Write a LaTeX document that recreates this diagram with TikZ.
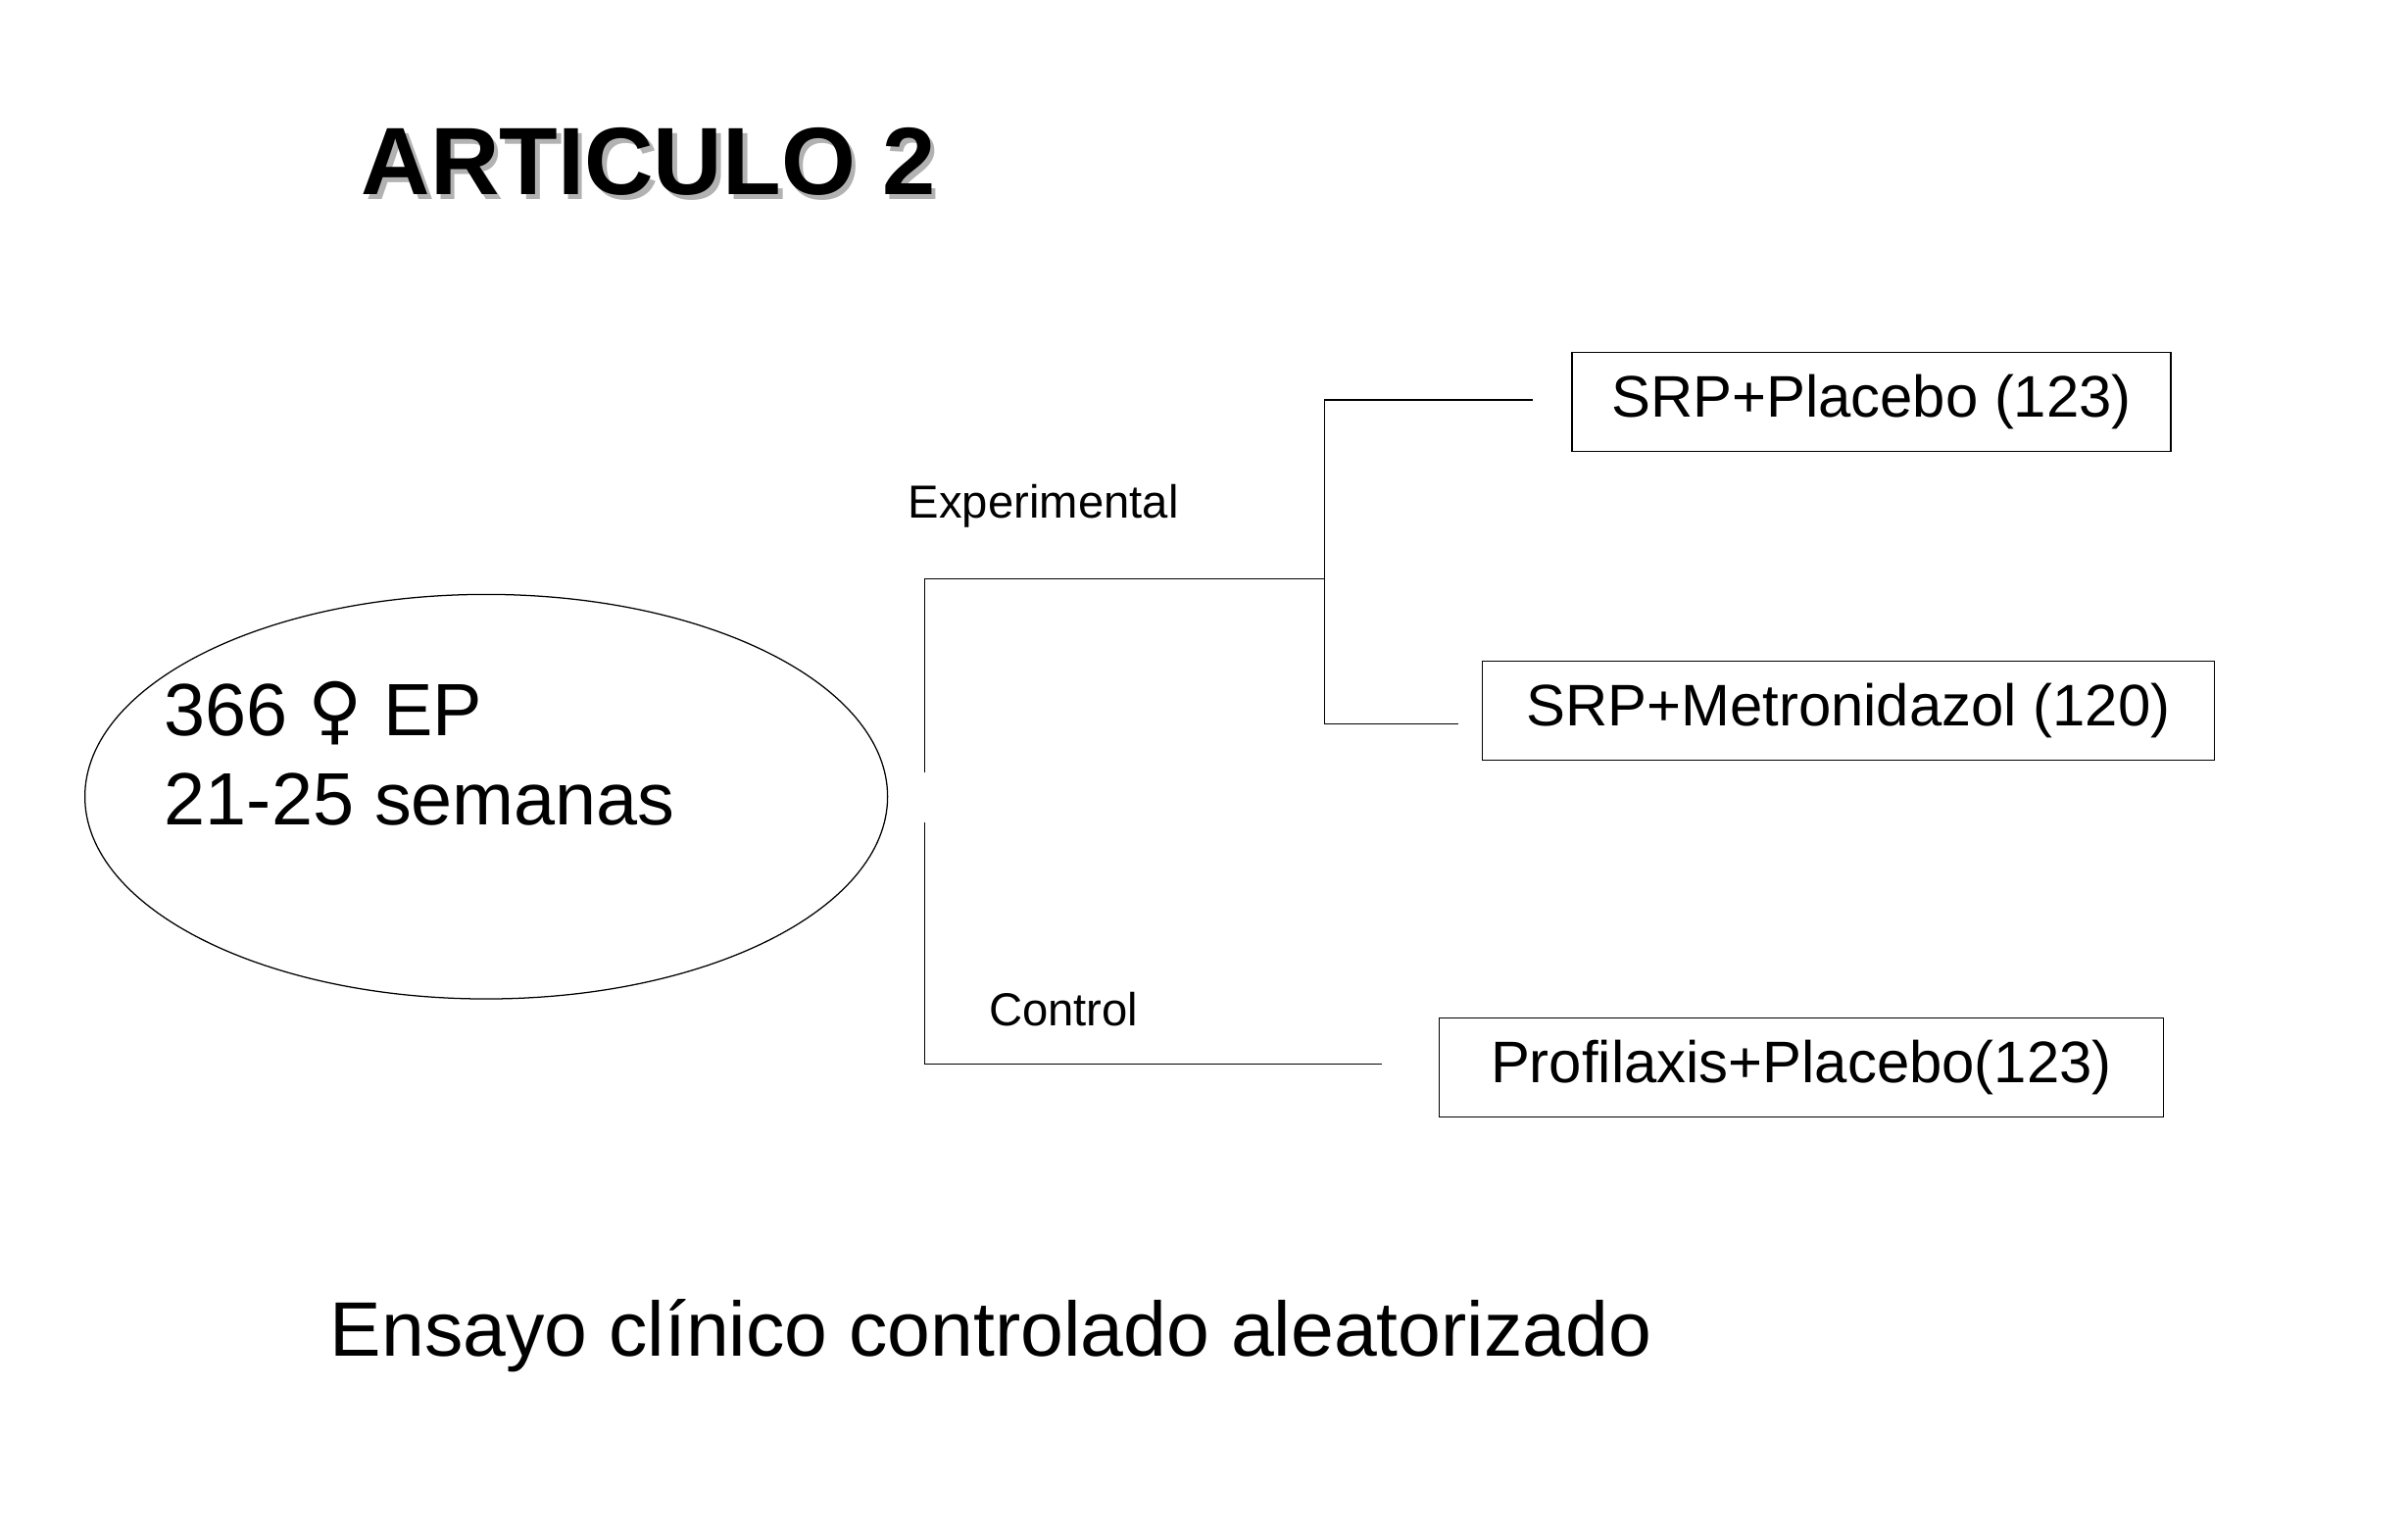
\documentclass[tikz,border=0pt]{standalone}
\usepackage{fontspec}
\setmainfont{Liberation Sans}
\newfontfamily\symfont{DejaVu Sans}
\begin{document}
\begin{tikzpicture}[x=1pt,y=-1pt,
  box/.style={draw,line width=0.8pt,inner sep=0pt,minimum height=64pt,anchor=north west},
  ln/.style={line width=0.8pt},
  bt/.style={font=\fontsize{38}{44}\selectfont}]
\useasboundingbox (0,0) rectangle (1560,996);
\node[font=\fontsize{62}{70}\bfseries, text=gray!60] at (423,108) {ARTICULO 2};
\node[font=\fontsize{62}{70}\bfseries] (title) at (420,105) {ARTICULO 2};
\draw[ln] (315,516) ellipse [x radius=260, y radius=131];
\node[anchor=west,font=\fontsize{48}{56}\selectfont] (t1) at (103,462) {366 {\symfont ♀} EP};
\node[anchor=west,font=\fontsize{48}{56}\selectfont] (t2) at (103,518) {21-25 semanas};
\node[box,minimum width=388pt,bt] (b1) at (1018,228) {SRP+Placebo (123)};
\node[box,minimum width=474pt,bt] (b2) at (960,428) {SRP+Metronidazol (120)};
\node[box,minimum width=469pt,bt] (b3) at (932,659) {Profilaxis+Placebo(123)};
\coordinate (e1) at (993,259); \coordinate (e2) at (945,469); \coordinate (e3) at (895,689);
\draw[ln] (599,500) -- (599,375) -- (858,375);
\draw[ln] (e1) -- (858,259) -- (858,469) -- (e2);
\draw[ln] (599,533) -- (599,689) -- (e3);
\node[font=\fontsize{30}{36}\selectfont] (ex) at (676,328) {Experimental};
\node[font=\fontsize{30}{36}\selectfont] (co) at (689,654) {Control};
\node[font=\fontsize{50}{58}\selectfont] (bot) at (642,865) {Ensayo clínico controlado aleatorizado};
\end{tikzpicture}
\end{document}
